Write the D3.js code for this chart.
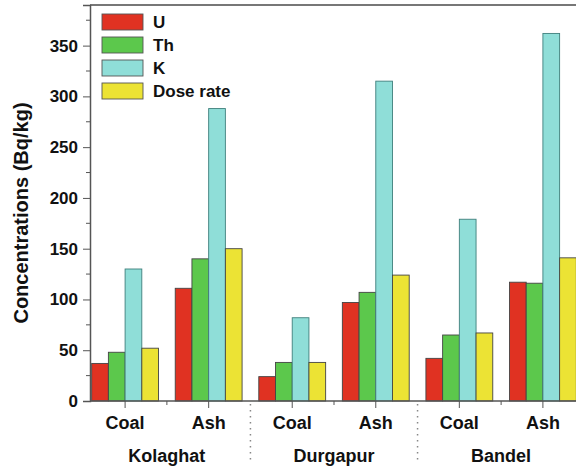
<!DOCTYPE html>
<html>
<head>
<meta charset="utf-8">
<script src="https://cdn.jsdelivr.net/npm/d3@7"></script>
<style>
  body { margin: 0; background: #fff; }
  text { font-family: "Liberation Sans", Arial, sans-serif; font-weight: bold; fill: #111; }
</style>
</head>
<body>
<script>
// data
var locations = ["Kolaghat", "Durgapur", "Bandel"];
var samples = ["Coal", "Ash"];
var series = ["U", "Th", "K", "Dose rate"];
var U = [37, 111, 24, 97, 42, 117];
var Th = [48, 140, 38, 107, 65, 116];
var K = [130, 288, 82, 315, 179, 362];
var Dose = [52, 150, 38, 124, 67, 141];
var colors = ["#e03222", "#5cc84c", "#8fded8", "#ece334"];

var values = [U, Th, K, Dose];

// sizes
var W = 576, H = 468;
var margin = {top: 5, left: 90, bottom: 67};

var svg = d3.select("body").append("svg").attr("width", W).attr("height", H);

// scales
var x = d3.scaleLinear().domain([-0.42, 5.42]).range([margin.left, 578]);
var step = x(1) - x(0);
var bw = step / 5;
var xs = d3.scaleBand().domain(series).range([-2 * bw, 2 * bw]);
var y = d3.scaleLinear().domain([0, 390]).range([H - margin.bottom, margin.top]);

// bars
series.forEach(function(s, si) {
  svg.append("g").selectAll("rect")
    .data(values[si])
    .join("rect")
    .attr("x", (d, i) => x(i) + xs(s))
    .attr("width", xs.bandwidth())
    .attr("y", d => y(d))
    .attr("height", d => y(0) - y(d))
    .attr("fill", colors[si])
    .attr("stroke", si == 2 ? "#3f7f7c" : "#444")
    .attr("stroke-width", 0.9);
});

// frame top
svg.append("line")
  .attr("x1", margin.left).attr("x2", W)
  .attr("y1", y(390)).attr("y2", y(390))
  .attr("stroke", "#777").attr("stroke-width", 2);

// y axis
var yAxis = d3.axisLeft(y).tickValues(d3.range(0, 351, 50)).tickSize(7).tickPadding(5);
var gy = svg.append("g").attr("transform", "translate(" + margin.left + ",0)").call(yAxis);
gy.select(".domain").attr("stroke", "#555").attr("stroke-width", 1.5);
gy.selectAll(".tick line").attr("stroke", "#555");
gy.selectAll("text").style("font-size", "17px");
gy.selectAll(".minor").data(d3.range(25, 390, 50)).join("line")
  .attr("class", "minor")
  .attr("x1", -4).attr("x2", 0)
  .attr("y1", d => y(d)).attr("y2", d => y(d))
  .attr("stroke", "#555");

// x axis
svg.append("line")
  .attr("x1", margin.left).attr("x2", W)
  .attr("y1", y(0)).attr("y2", y(0))
  .attr("stroke", "#555").attr("stroke-width", 1.5);
svg.selectAll(".xtick").data(d3.range(6)).join("line")
  .attr("x1", d => x(d)).attr("x2", d => x(d))
  .attr("y1", y(0)).attr("y2", y(0) + 7)
  .attr("stroke", "#555");
svg.selectAll(".xminor").data([0.5, 2.5, 4.5]).join("line")
  .attr("x1", d => x(d)).attr("x2", d => x(d))
  .attr("y1", y(0)).attr("y2", y(0) + 4)
  .attr("stroke", "#555");

// sample labels
svg.selectAll(".slabel").data(d3.range(6)).join("text")
  .attr("x", d => x(d)).attr("y", 429)
  .attr("text-anchor", "middle")
  .style("font-size", "18px")
  .text(d => samples[d % 2]);

// location labels
svg.selectAll(".llabel").data(locations).join("text")
  .attr("x", (d, i) => x(2 * i + 0.5)).attr("y", 462)
  .attr("text-anchor", "middle")
  .style("font-size", "18px")
  .text(d => d);

// dotted separators
svg.selectAll(".sep").data([1.5, 3.5]).join("line")
  .attr("x1", d => x(d)).attr("x2", d => x(d))
  .attr("y1", y(0) + 3).attr("y2", 462)
  .attr("stroke", "#888").attr("stroke-width", 1.5)
  .attr("stroke-dasharray", "1.5,4.5");

// y title
svg.append("text")
  .attr("transform", "translate(28,213) rotate(-90)")
  .attr("text-anchor", "middle")
  .style("font-size", "20px")
  .text("Concentrations (Bq/kg)");

// legend
var legend = svg.append("g").attr("transform", "translate(102,14)");
var li = legend.selectAll("g").data(series).join("g")
  .attr("transform", (d, i) => "translate(0," + (i * 23) + ")");
li.append("rect")
  .attr("width", 41).attr("height", 16)
  .attr("fill", (d, i) => colors[i])
  .attr("stroke", "#555").attr("stroke-width", 0.9);
li.append("text")
  .attr("x", 51).attr("y", 14)
  .style("font-size", "17px")
  .text(d => d);
</script>
</body>
</html>
